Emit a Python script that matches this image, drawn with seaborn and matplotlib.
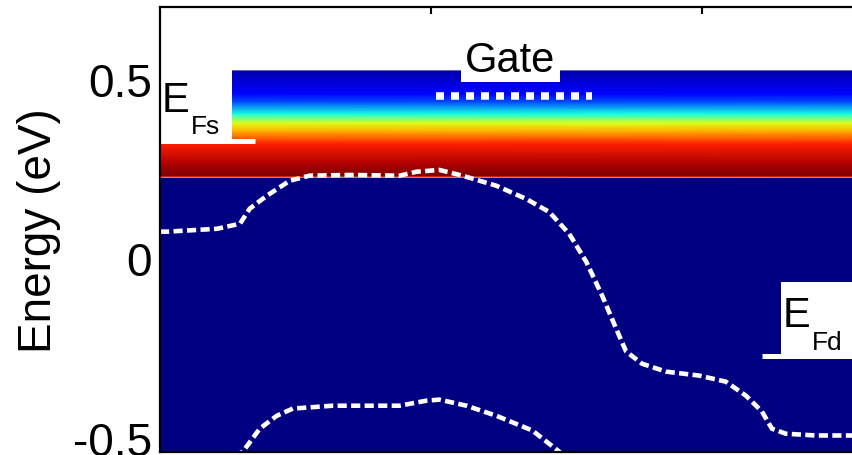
import numpy as np
import pandas as pd
import matplotlib
matplotlib.use("Agg")
import matplotlib.pyplot as plt
from matplotlib.patches import Rectangle
import seaborn as sns

# Position along the channel (nm) and band-edge energies (eV)
cb_x = [0.0, 0.26, 2.10, 2.95, 3.31, 3.94, 4.79, 5.52, 7.00, 8.84, 9.47, 10.31,
        11.16, 12.41, 13.52, 14.36, 15.10, 15.73, 16.32, 16.83, 17.20, 17.79,
        18.67, 19.89, 20.88, 21.62, 22.21, 22.58, 23.09, 24.20, 25.52, 30.0]
cb_e = [0.074, 0.074, 0.082, 0.096, 0.138, 0.174, 0.216, 0.230, 0.232, 0.230,
        0.241, 0.246, 0.230, 0.202, 0.165, 0.129, 0.068, -0.010, -0.105, -0.196,
        -0.260, -0.294, -0.316, -0.327, -0.344, -0.383, -0.427, -0.475, -0.489,
        -0.494, -0.494, -0.494]

vb_x = [2.58, 3.06, 3.68, 4.31, 4.90, 6.37, 8.84, 9.83, 10.31, 11.31, 12.41,
        13.74, 14.73, 15.30]
vb_e = [-0.558, -0.539, -0.475, -0.439, -0.419, -0.411, -0.411, -0.397, -0.394,
        -0.411, -0.439, -0.480, -0.539, -0.588]

# Normalised spectral intensity versus energy
spec_e = [-0.54, 0.2245, 0.2255, 0.2265, 0.2275, 0.2285, 0.2300, 0.263, 0.319,
          0.355, 0.377, 0.402, 0.4355, 0.458, 0.522]
spec_v = [0.0, 0.0, 0.12, 0.36, 0.62, 0.86, 1.0, 0.96, 0.875,
          0.72, 0.62, 0.375, 0.20, 0.125, 0.04]

# Reference levels
E_FS = 0.3255
E_FD = -0.273
GATE_E = 0.452
GATE_X = [10.17, 15.95]

x_range = [0.0, 30.0]
y_range = [-0.54, 0.70]
y_ticks = [-0.5, 0.0, 0.5]
y_ticklabels = ["-0.5", "0", "0.5"]
x_ticks = [10, 20]

sns.set_theme(style="white")
plt.rcParams["font.family"] = ["Liberation Sans", "DejaVu Sans"]
plt.rcParams["text.color"] = "black"
plt.rcParams["axes.labelcolor"] = "black"
plt.rcParams["ytick.color"] = "black"
plt.rcParams["xtick.color"] = "black"

fig = plt.figure(figsize=(8.53, 4.56), dpi=100)
ax = fig.add_axes([160 / 853, 3 / 456, (973 - 160) / 853, 445 / 456])

# Energy-resolved spectrum map
X, Y = np.meshgrid(x_range, spec_e)
C = np.repeat(np.array(spec_v)[:, None], 2, axis=1)
ax.pcolormesh(X, Y, C, shading="gouraud", cmap="jet", vmin=0, vmax=1, zorder=0)

# Band edges
dash = (0, (2.0, 0.95))
df_cb = pd.DataFrame({"x": cb_x, "E": cb_e})
df_vb = pd.DataFrame({"x": vb_x, "E": vb_e})
sns.lineplot(data=df_cb, x="x", y="E", ax=ax, color="white", lw=3.3,
             linestyle=dash, sort=False, estimator=None, zorder=3)
sns.lineplot(data=df_vb, x="x", y="E", ax=ax, color="white", lw=3.3,
             linestyle=dash, sort=False, estimator=None, zorder=3)

# Gate electrode
ax.plot(GATE_X, [GATE_E, GATE_E], color="white", lw=5.4,
        linestyle=(0, (1.07, 0.93)), solid_capstyle="butt", zorder=3)
ax.add_patch(Rectangle((11.09, 0.491), 3.68, 0.2, fc="white", ec="none", zorder=4))
ax.text(12.93, 0.553, "Gate", ha="center", va="center", fontsize=30,
        color="black", zorder=5)

# Source Fermi level
ax.add_patch(Rectangle((0, E_FS), 2.65, 0.4, fc="white", ec="none", zorder=4))
ax.plot([0, 3.5], [E_FS, E_FS], color="white", lw=3.6, solid_capstyle="butt", zorder=4)
ax.text(0.07, 0.4105, "E", ha="left", va="baseline", fontsize=30, color="black", zorder=5)
ax.text(1.14, 0.349, "Fs", ha="left", va="baseline", fontsize=19, color="black", zorder=5)

# Drain Fermi level
ax.add_patch(Rectangle((22.92, E_FD), 8, 0.207, fc="white", ec="none", zorder=4))
ax.plot([22.2, 30], [E_FD, E_FD], color="white", lw=3.6, solid_capstyle="butt", zorder=4)
ax.text(22.98, -0.188, "E", ha="left", va="baseline", fontsize=30, color="black", zorder=5)
ax.text(24.05, -0.252, "Fd", ha="left", va="baseline", fontsize=19, color="black", zorder=5)

ax.set_xlim(x_range)
ax.set_ylim(y_range)
ax.set_xticks(x_ticks)
ax.set_yticks(y_ticks)
ax.set_yticklabels(y_ticklabels)
ax.set_xlabel("")
ax.set_ylabel("Energy (eV)", fontsize=33, labelpad=8, color="black")
ax.tick_params(axis="y", labelsize=33, length=0, pad=6, labelcolor="black")
ax.tick_params(axis="x", direction="in", length=5, width=1.5, color="black",
               top=True, bottom=False, labelbottom=False)
for s in ax.spines.values():
    s.set_color("black")
    s.set_linewidth(1.6)
    s.set_zorder(6)

fig.savefig("out.png", dpi=100, facecolor="white")
